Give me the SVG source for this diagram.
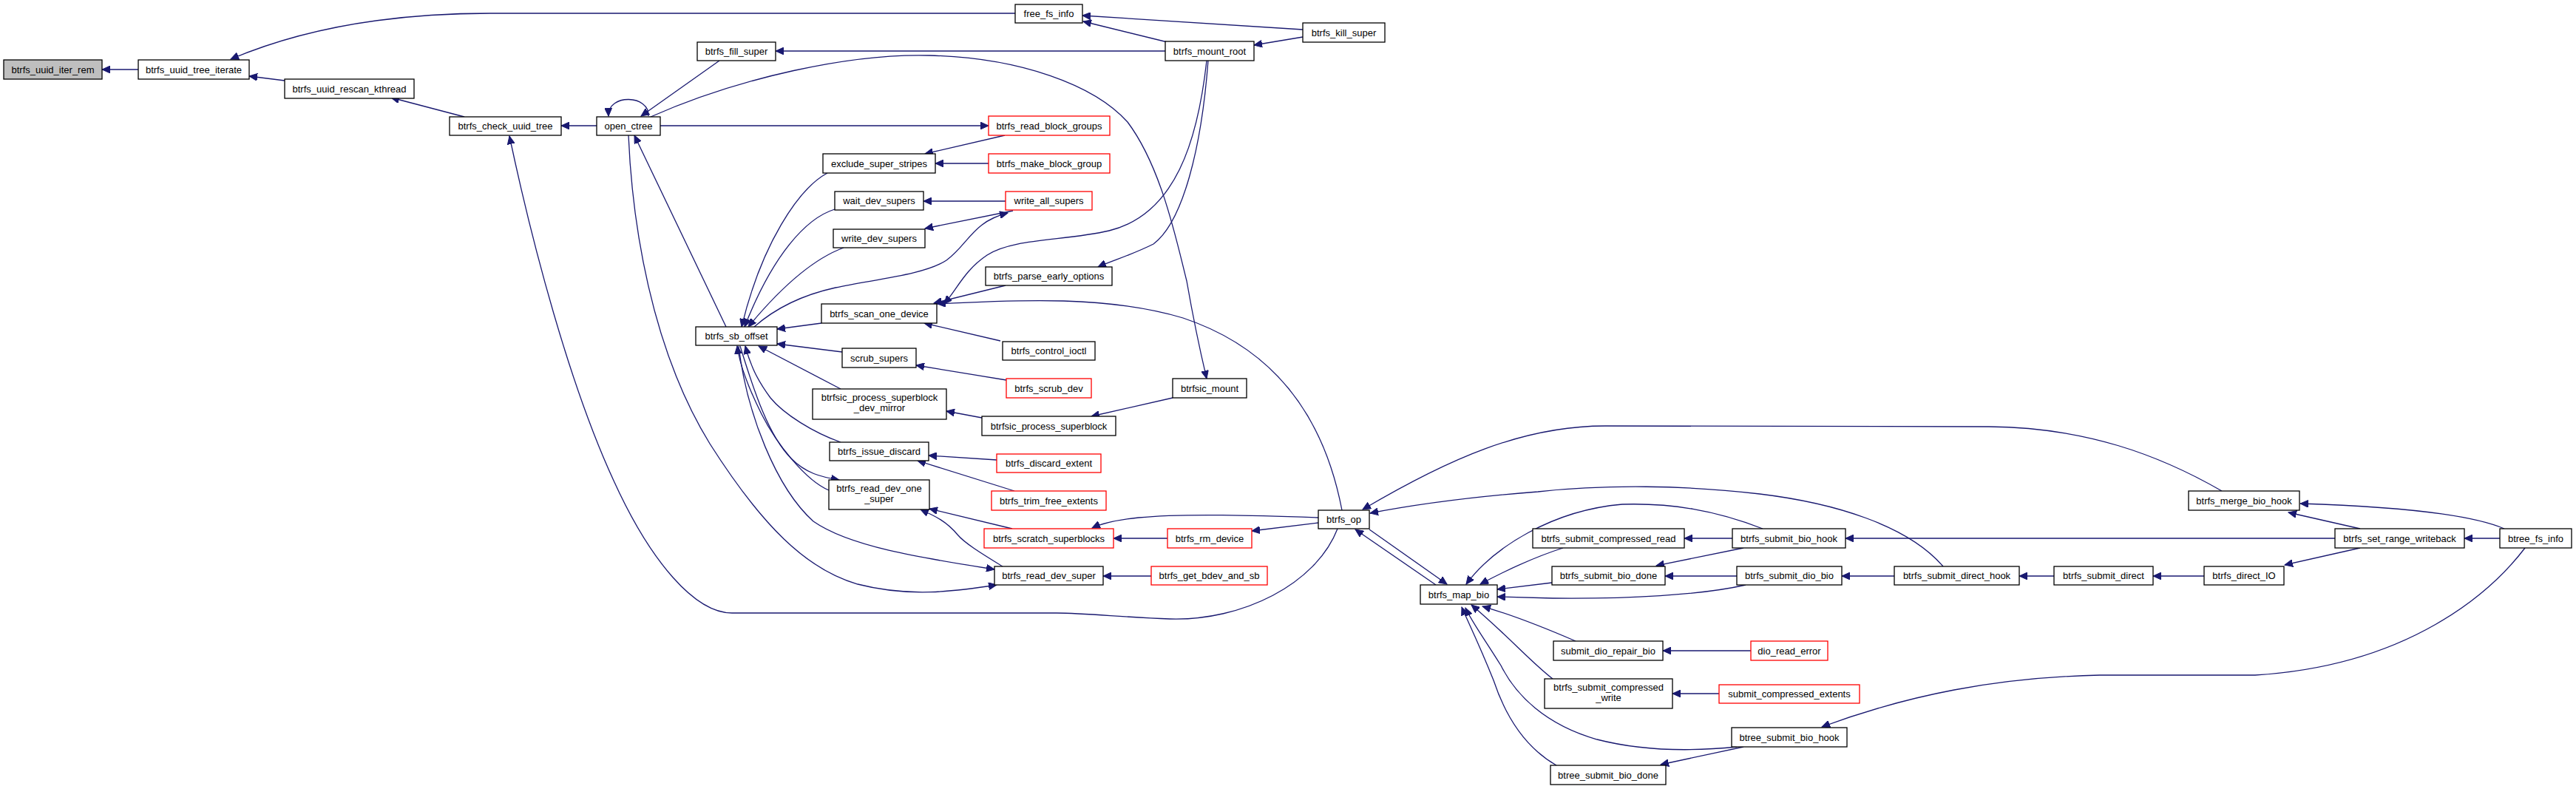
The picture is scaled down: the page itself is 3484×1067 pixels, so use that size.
<svg xmlns="http://www.w3.org/2000/svg" width="3484" height="1067" viewBox="0 0 3484 1067">
<defs>
<marker id="ah" markerWidth="12" markerHeight="10" refX="11" refY="5" orient="auto" markerUnits="userSpaceOnUse">
<path d="M0,0 L11,5 L0,10 z" fill="#191970" stroke="#191970" stroke-width="1"/>
</marker>
<style>
.n rect{fill:#fff;stroke:#000;stroke-width:1.3}
.r rect{stroke:#ff0000}
.g rect{fill:#bfbfbf}
.n text{font-family:"Liberation Sans",Arial,sans-serif;font-size:13px;text-anchor:middle;fill:#000}
#edges path{fill:none;stroke:#191970;stroke-width:1.3;marker-end:url(#ah)}
</style>
</defs>
<rect width="3484" height="1067" fill="#fff"/>
<g id="edges">
<path d="M187,94 L138,94"/>
<path d="M1373,18 L663,18 C560,18 430,30 312,80"/>
<path d="M385,109 L337,103"/>
<path d="M628,158 L529,132"/>
<path d="M807,170 L759,170"/>
<path d="M877,157 C879,128 822,126 823,157"/>
<path d="M973,82 L867,157"/>
<path d="M880,158 C1000,105 1150,72 1257,75 C1380,78 1480,115 1525,165 C1570,225 1590,320 1605,380 C1612,420 1622,470 1632,512"/>
<path d="M893,170 L1337,170"/>
<path d="M1359,183 L1251,208"/>
<path d="M1337,221 L1265,221"/>
<path d="M1360,272 L1249,272"/>
<path d="M1370,285 L1251,309"/>
<path d="M1579,57 L1465,29"/>
<path d="M1762,40 L1464,21"/>
<path d="M1762,50 L1696,61"/>
<path d="M1576,69 L1049,69"/>
<path d="M1634,82 C1625,200 1600,300 1560,330 C1530,345 1505,352 1485,361"/>
<path d="M1632,82 C1620,190 1590,290 1500,312 C1440,326 1370,322 1335,345 C1305,365 1295,390 1277,411"/>
<path d="M1020,442 C1045,420 1080,400 1130,389 C1180,378 1250,372 1280,352 C1310,330 1315,300 1363,288"/>
<path d="M1119,234 C1080,255 1030,330 1003,442"/>
<path d="M1129,283 C1090,295 1045,345 1007,442"/>
<path d="M1141,335 C1100,350 1055,390 1012,442"/>
<path d="M1111,437 L1051,445"/>
<path d="M1360,386 L1263,410"/>
<path d="M1353,461 L1250,437"/>
<path d="M1815,690 C1790,560 1720,470 1600,430 C1500,400 1380,405 1268,411"/>
<path d="M1139,476 L1051,465"/>
<path d="M1361,514 L1239,494"/>
<path d="M1137,526 L1026,468"/>
<path d="M1328,565 L1280,556"/>
<path d="M1586,538 L1476,563"/>
<path d="M1137,598 C1100,585 1060,560 1042,538 C1025,515 1015,495 1008,468"/>
<path d="M1348,622 L1256,616"/>
<path d="M1372,664 L1241,623"/>
<path d="M1121,663 C1090,650 1050,600 1030,560 C1010,520 1000,490 997,468"/>
<path d="M1001,468 C1020,530 1040,590 1070,620 C1090,640 1110,645 1135,649"/>
<path d="M999,468 C1010,560 1050,660 1100,705 C1150,740 1250,755 1345,770"/>
<path d="M850,183 C855,300 880,470 960,600 C1030,710 1090,770 1160,790 C1230,808 1290,800 1348,791"/>
<path d="M982,442 L858,183"/>
<path d="M1809,715 C1780,790 1680,840 1582,837 C1520,835 1470,829 1429,829 L990,829 C940,829 880,760 830,650 C770,520 720,330 689,184"/>
<path d="M1579,728 L1506,728"/>
<path d="M1783,707 L1693,718"/>
<path d="M1783,700 C1700,697 1600,694 1540,700 C1510,703 1490,708 1477,714"/>
<path d="M1369,715 L1257,688"/>
<path d="M1356,766 C1330,750 1305,735 1295,723 C1280,705 1265,698 1245,689"/>
<path d="M1557,779 L1492,779"/>
<path d="M1852,716 L1957,790"/>
<path d="M1942,791 L1833,716"/>
<path d="M3005,664 C2920,615 2820,578 2690,577 L2171,576 C2060,576 1960,620 1843,689"/>
<path d="M2628,766 C2580,710 2480,680 2380,668 C2280,656 2171,655 2080,665 C1990,672 1910,683 1853,694"/>
<path d="M2384,715 C2320,690 2260,680 2194,682 C2100,690 2020,740 1983,790"/>
<path d="M2114,741 C2070,755 2030,775 2002,790"/>
<path d="M2343,728 L2278,728"/>
<path d="M2358,741 L2240,765"/>
<path d="M2099,788 L2025,797"/>
<path d="M2349,779 L2252,779"/>
<path d="M2361,791 C2300,805 2200,810 2100,809 L2025,807"/>
<path d="M2562,779 L2491,779"/>
<path d="M2778,779 L2731,779"/>
<path d="M2981,779 L2912,779"/>
<path d="M3192,741 L3090,764"/>
<path d="M3158,728 L2496,728"/>
<path d="M3192,715 L3095,693"/>
<path d="M3387,715 C3340,695 3240,685 3111,681"/>
<path d="M3381,728 L3333,728"/>
<path d="M3415,741 C3370,800 3260,900 3050,913 L2840,913 C2700,916 2580,940 2464,983"/>
<path d="M2131,867 C2080,845 2040,830 2005,820"/>
<path d="M2368,880 L2249,880"/>
<path d="M2100,918 C2070,895 2040,860 1990,818"/>
<path d="M2325,938 L2262,938"/>
<path d="M2349,1010 C2300,1015 2230,1018 2160,1000 C2090,980 2050,940 2030,900 C2005,860 1990,840 1982,822"/>
<path d="M2358,1010 L2246,1034"/>
<path d="M2105,1035 C2070,1015 2040,980 2020,920 C2000,870 1985,840 1977,821"/>
</g>
<g id="n_iter_rem" class="n g"><rect x="5" y="81" width="133" height="26"/><text x="71.5" y="98.5">btrfs_uuid_iter_rem</text></g>
<g id="n_tree_iterate" class="n"><rect x="187" y="81" width="150" height="26"/><text x="262" y="98.5">btrfs_uuid_tree_iterate</text></g>
<g id="n_rescan" class="n"><rect x="385" y="107" width="175" height="26"/><text x="472.5" y="124.5">btrfs_uuid_rescan_kthread</text></g>
<g id="n_check_uuid" class="n"><rect x="608" y="158" width="151" height="25"/><text x="683.5" y="175">btrfs_check_uuid_tree</text></g>
<g id="n_open_ctree" class="n"><rect x="807" y="158" width="86" height="25"/><text x="850" y="175">open_ctree</text></g>
<g id="n_fill_super" class="n"><rect x="943" y="57" width="106" height="25"/><text x="996" y="74">btrfs_fill_super</text></g>
<g id="n_free_fs_info" class="n"><rect x="1373" y="6" width="91" height="25"/><text x="1418.5" y="23">free_fs_info</text></g>
<g id="n_kill_super" class="n"><rect x="1762" y="31" width="111" height="26"/><text x="1817.5" y="48.5">btrfs_kill_super</text></g>
<g id="n_mount_root" class="n"><rect x="1576" y="56" width="120" height="26"/><text x="1636" y="73.5">btrfs_mount_root</text></g>
<g id="n_read_block_groups" class="n r"><rect x="1337" y="157" width="164" height="26"/><text x="1419" y="174.5">btrfs_read_block_groups</text></g>
<g id="n_exclude" class="n"><rect x="1113" y="208" width="152" height="26"/><text x="1189" y="225.5">exclude_super_stripes</text></g>
<g id="n_make_block_group" class="n r"><rect x="1337" y="208" width="164" height="26"/><text x="1419" y="225.5">btrfs_make_block_group</text></g>
<g id="n_wait_dev" class="n"><rect x="1129" y="259" width="120" height="25"/><text x="1189" y="276">wait_dev_supers</text></g>
<g id="n_write_all" class="n r"><rect x="1360" y="259" width="117" height="25"/><text x="1418.5" y="276">write_all_supers</text></g>
<g id="n_write_dev" class="n"><rect x="1127" y="310" width="124" height="25"/><text x="1189" y="327">write_dev_supers</text></g>
<g id="n_parse_early" class="n"><rect x="1333" y="361" width="171" height="25"/><text x="1418.5" y="378">btrfs_parse_early_options</text></g>
<g id="n_scan_one" class="n"><rect x="1111" y="411" width="156" height="26"/><text x="1189" y="428.5">btrfs_scan_one_device</text></g>
<g id="n_sb_offset" class="n"><rect x="941" y="442" width="110" height="25"/><text x="996" y="459">btrfs_sb_offset</text></g>
<g id="n_control_ioctl" class="n"><rect x="1356" y="462" width="125" height="25"/><text x="1418.5" y="479">btrfs_control_ioctl</text></g>
<g id="n_scrub_supers" class="n"><rect x="1139" y="471" width="100" height="26"/><text x="1189" y="488.5">scrub_supers</text></g>
<g id="n_scrub_dev" class="n r"><rect x="1361" y="512" width="115" height="26"/><text x="1418.5" y="529.5">btrfs_scrub_dev</text></g>
<g id="n_btrfsic_mount" class="n"><rect x="1586" y="512" width="100" height="26"/><text x="1636" y="529.5">btrfsic_mount</text></g>
<g id="n_dev_mirror" class="n"><rect x="1099" y="526" width="181" height="41"/><text x="1189.5" y="542">btrfsic_process_superblock</text><text x="1189.5" y="556">_dev_mirror</text></g>
<g id="n_process_sb" class="n"><rect x="1328" y="563" width="181" height="26"/><text x="1418.5" y="580.5">btrfsic_process_superblock</text></g>
<g id="n_issue_discard" class="n"><rect x="1122" y="598" width="134" height="25"/><text x="1189" y="615">btrfs_issue_discard</text></g>
<g id="n_discard_extent" class="n r"><rect x="1348" y="614" width="141" height="25"/><text x="1418.5" y="631">btrfs_discard_extent</text></g>
<g id="n_read_dev_one" class="n"><rect x="1121" y="649" width="136" height="40"/><text x="1189" y="665">btrfs_read_dev_one</text><text x="1189" y="679">_super</text></g>
<g id="n_trim" class="n r"><rect x="1341" y="664" width="155" height="26"/><text x="1418.5" y="681.5">btrfs_trim_free_extents</text></g>
<g id="n_op" class="n"><rect x="1783" y="690" width="69" height="25"/><text x="1817.5" y="707">btrfs_op</text></g>
<g id="n_scratch" class="n r"><rect x="1331" y="715" width="175" height="26"/><text x="1418.5" y="732.5">btrfs_scratch_superblocks</text></g>
<g id="n_rm_device" class="n r"><rect x="1579" y="715" width="114" height="26"/><text x="1636" y="732.5">btrfs_rm_device</text></g>
<g id="n_read_dev_super" class="n"><rect x="1345" y="766" width="147" height="25"/><text x="1418.5" y="783">btrfs_read_dev_super</text></g>
<g id="n_get_bdev" class="n r"><rect x="1557" y="766" width="157" height="25"/><text x="1635.5" y="783">btrfs_get_bdev_and_sb</text></g>
<g id="n_map_bio" class="n"><rect x="1921" y="791" width="104" height="26"/><text x="1973" y="808.5">btrfs_map_bio</text></g>
<g id="n_comp_read" class="n"><rect x="2073" y="715" width="205" height="26"/><text x="2175.5" y="732.5">btrfs_submit_compressed_read</text></g>
<g id="n_submit_bio_hook" class="n"><rect x="2343" y="715" width="153" height="26"/><text x="2419.5" y="732.5">btrfs_submit_bio_hook</text></g>
<g id="n_bio_done" class="n"><rect x="2099" y="766" width="153" height="25"/><text x="2175.5" y="783">btrfs_submit_bio_done</text></g>
<g id="n_dio_bio" class="n"><rect x="2349" y="766" width="142" height="25"/><text x="2420" y="783">btrfs_submit_dio_bio</text></g>
<g id="n_direct_hook" class="n"><rect x="2562" y="766" width="169" height="25"/><text x="2646.5" y="783">btrfs_submit_direct_hook</text></g>
<g id="n_submit_direct" class="n"><rect x="2778" y="766" width="134" height="25"/><text x="2845" y="783">btrfs_submit_direct</text></g>
<g id="n_direct_IO" class="n"><rect x="2981" y="766" width="108" height="25"/><text x="3035" y="783">btrfs_direct_IO</text></g>
<g id="n_merge_bio_hook" class="n"><rect x="2960" y="664" width="150" height="26"/><text x="3035" y="681.5">btrfs_merge_bio_hook</text></g>
<g id="n_set_range" class="n"><rect x="3158" y="715" width="175" height="26"/><text x="3245.5" y="732.5">btrfs_set_range_writeback</text></g>
<g id="n_btree_fs_info" class="n"><rect x="3381" y="715" width="97" height="26"/><text x="3429.5" y="732.5">btree_fs_info</text></g>
<g id="n_repair_bio" class="n"><rect x="2101" y="867" width="148" height="26"/><text x="2175" y="884.5">submit_dio_repair_bio</text></g>
<g id="n_dio_read_error" class="n r"><rect x="2368" y="867" width="104" height="26"/><text x="2420" y="884.5">dio_read_error</text></g>
<g id="n_comp_write" class="n"><rect x="2089" y="918" width="173" height="40"/><text x="2175.5" y="934">btrfs_submit_compressed</text><text x="2175.5" y="948">_write</text></g>
<g id="n_comp_extents" class="n r"><rect x="2325" y="926" width="190" height="25"/><text x="2420" y="943">submit_compressed_extents</text></g>
<g id="n_btree_bio_hook" class="n"><rect x="2342" y="984" width="156" height="26"/><text x="2420" y="1001.5">btree_submit_bio_hook</text></g>
<g id="n_btree_bio_done" class="n"><rect x="2097" y="1035" width="156" height="26"/><text x="2175" y="1052.5">btree_submit_bio_done</text></g>
</svg>
